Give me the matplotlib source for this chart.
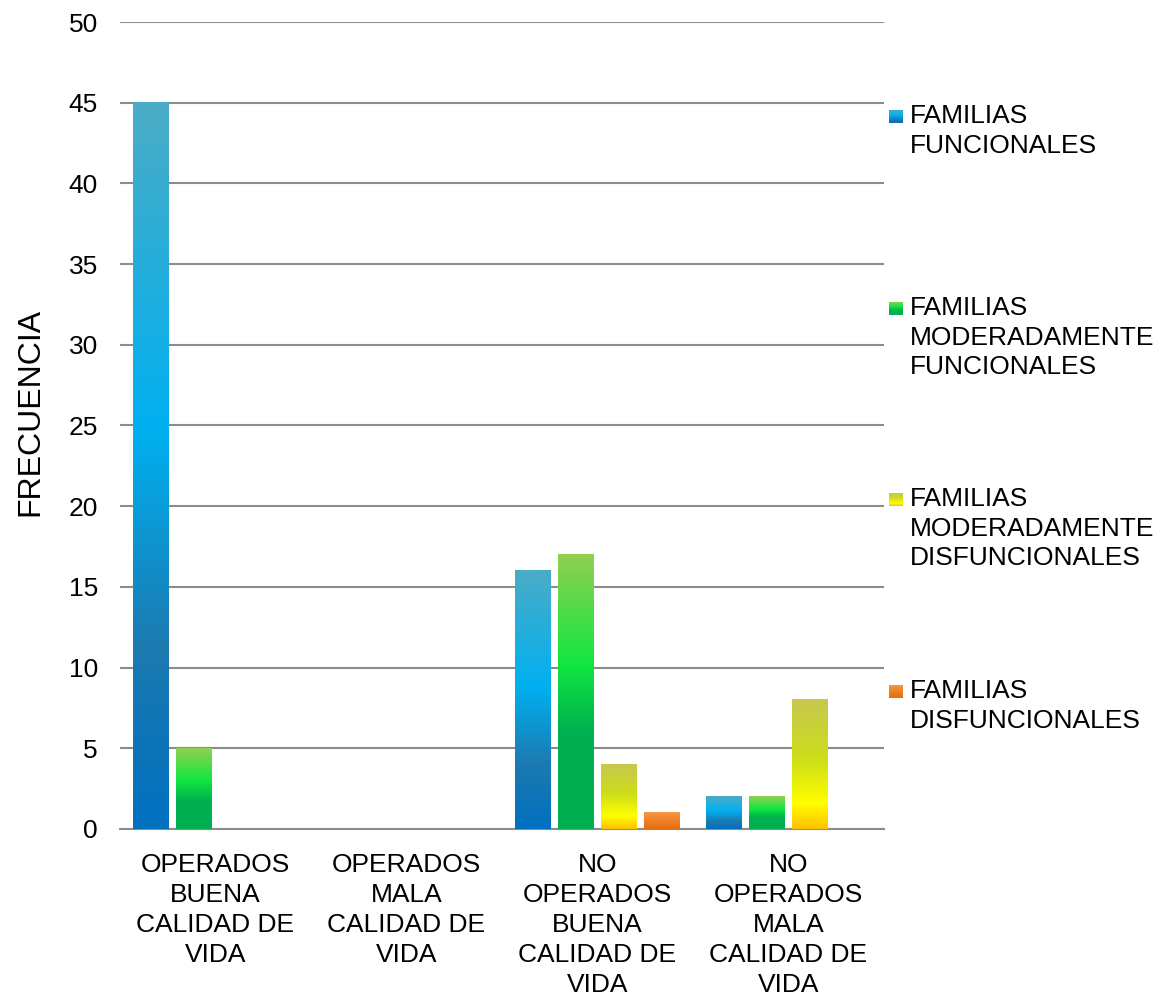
import numpy as np
import matplotlib

matplotlib.use("Agg")
import matplotlib.pyplot as plt
from matplotlib.colors import LinearSegmentedColormap

plt.rcParams["font.family"] = ["Liberation Sans", "DejaVu Sans"]

categories = [
    "OPERADOS\nBUENA\nCALIDAD DE\nVIDA",
    "OPERADOS\nMALA\nCALIDAD DE\nVIDA",
    "NO\nOPERADOS\nBUENA\nCALIDAD DE\nVIDA",
    "NO\nOPERADOS\nMALA\nCALIDAD DE\nVIDA",
]
series_names = [
    "FAMILIAS\nFUNCIONALES",
    "FAMILIAS\nMODERADAMENTE\nFUNCIONALES",
    "FAMILIAS\nMODERADAMENTE\nDISFUNCIONALES",
    "FAMILIAS\nDISFUNCIONALES",
]
funcionales = [45, 0, 16, 2]
mod_funcionales = [5, 0, 17, 2]
mod_disfuncionales = [0, 0, 4, 8]
disfuncionales = [0, 0, 1, 0]
series = [funcionales, mod_funcionales, mod_disfuncionales, disfuncionales]

# vertical gradients, bottom -> top
gradients = [
    [(0.0, "#0070C0"), (0.25, "#1C7AB0"), (0.55, "#00B0F0"), (1.0, "#4BACC6")],
    [(0.0, "#00B050"), (0.35, "#00B050"), (0.6, "#10E640"), (1.0, "#92D050")],
    [(0.0, "#FFC000"), (0.2, "#FFFF00"), (0.55, "#CCDD1A"), (1.0, "#C8C850")],
    [(0.0, "#E46C0A"), (1.0, "#F79646")],
]
cmaps = [LinearSegmentedColormap.from_list(f"g{i}", g) for i, g in enumerate(gradients)]
grad = np.linspace(0, 1, 256)[::-1].reshape(-1, 1)

fig = plt.figure(figsize=(11.62, 9.96), dpi=100)
ax = fig.add_axes([0.1033, 0.1677, 0.6575, 0.8102])

x = np.arange(len(categories))
step = 0.225
width = 0.188
for i, (vals, cmap) in enumerate(zip(series, cmaps)):
    bars = ax.bar(x + (i - 1.5) * step, vals, width, facecolor="none", edgecolor="none", zorder=3)
    for b in bars:
        h = b.get_height()
        if h <= 0:
            continue
        x0 = b.get_x()
        ax.imshow(grad, cmap=cmap, aspect="auto", extent=(x0, x0 + b.get_width(), 0, h),
                  zorder=3, interpolation="bilinear")

ax.set_xlim(-0.5, 3.5)
ax.set_ylim(0, 50)
ax.set_yticks(range(0, 51, 5))
ax.yaxis.grid(True, color="#8C8C8C", linewidth=1.5, zorder=0)
ax.set_axisbelow(True)
for s in ["top", "right", "left"]:
    ax.spines[s].set_visible(False)
ax.spines["bottom"].set_color("#8C8C8C")
ax.spines["bottom"].set_linewidth(1.5)
ax.tick_params(axis="y", length=0, pad=16, labelsize=19)
ax.tick_params(axis="x", length=0, pad=17, labelsize=19)
ax.set_xticks(x)
ax.set_xticklabels(categories, linespacing=1.32)
ax.set_ylabel("FRECUENCIA", fontsize=23)
ax.yaxis.set_label_coords(-0.098, 0.517)

# legend drawn by hand to keep the wide spacing of the original
leg_y = [117, 309, 500, 692]
W, H = 1162, 996
for name, cmap, yy in zip(series_names, cmaps, leg_y):
    mk = fig.add_axes([889 / W, 1 - (yy + 6) / H, 14 / W, 13 / H])
    mk.imshow(grad, cmap=cmap, aspect="auto", interpolation="bilinear")
    mk.axis("off")
    fig.text(910 / W, 1 - (yy - 13) / H, name, fontsize=19, va="top", ha="left", linespacing=1.3)

fig.savefig("out.png", dpi=100)
